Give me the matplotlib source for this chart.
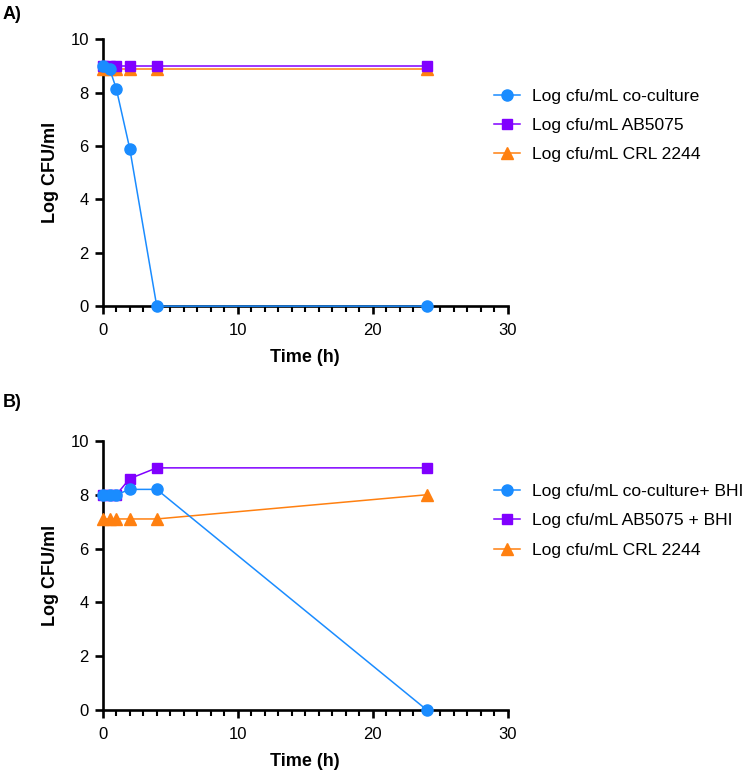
import matplotlib.pyplot as plt
from matplotlib.ticker import MultipleLocator

plt.rcParams['font.family'] = ['Liberation Sans', 'DejaVu Sans']

# panel A data
time_a = [0, 0.5, 1, 2, 4, 24]
coculture_a = [9.0, 8.9, 8.15, 5.9, 0.0, 0.0]
ab5075_a = [9.0, 9.0, 9.0, 9.0, 9.0, 9.0]
crl_a = [8.9, 8.9, 8.9, 8.9, 8.9, 8.9]

# panel B data
time_b = [0, 0.5, 1, 2, 4, 24]
coculture_b = [8.0, 8.0, 8.0, 8.2, 8.2, 0.0]
ab5075_b = [8.0, 8.0, 8.0, 8.6, 9.0, 9.0]
crl_b = [7.1, 7.1, 7.1, 7.1, 7.1, 8.0]

labels_a = ['Log cfu/mL co-culture', 'Log cfu/mL AB5075', 'Log cfu/mL CRL 2244']
labels_b = ['Log cfu/mL co-culture+ BHI', 'Log cfu/mL AB5075 + BHI', 'Log cfu/mL CRL 2244']

blue = '#1a8cff'
purple = '#8000ff'
orange = '#ff8010'

fig = plt.figure(figsize=(7.5, 7.75), dpi=100)
ax_a = fig.add_axes([0.137, 0.605, 0.54, 0.3445])
ax_b = fig.add_axes([0.137, 0.084, 0.54, 0.347])


def draw(ax, t, co, ab, crl, labels, legend_y):
    # orange first so purple sits on top like the original
    h3, = ax.plot(t, crl, color=orange, marker='^', ms=8.5, lw=1.1, clip_on=False, zorder=3)
    h2, = ax.plot(t, ab, color=purple, marker='s', ms=7.5, lw=1.1, clip_on=False, zorder=4)
    h1, = ax.plot(t, co, color=blue, marker='o', ms=8, lw=1.1, clip_on=False, zorder=5)
    ax.set_xlim(0, 30)
    ax.set_ylim(0, 10)
    ax.set_xticks([0, 10, 20, 30])
    ax.xaxis.set_minor_locator(MultipleLocator(1))
    ax.set_yticks([0, 2, 4, 6, 8, 10])
    for s in ['top', 'right']:
        ax.spines[s].set_visible(False)
    for s in ['left', 'bottom']:
        ax.spines[s].set_linewidth(1.9)
    ax.tick_params(which='major', width=1.9, length=6, labelsize=12)
    ax.tick_params(which='minor', width=1.5, length=4)
    ax.tick_params(axis='x', pad=6)
    ax.tick_params(axis='y', pad=4)
    ax.set_xlabel('Time (h)', fontsize=13, fontweight='bold', labelpad=8)
    ax.set_ylabel('Log CFU/ml', fontsize=13, fontweight='bold', labelpad=8)
    fig.legend([h1, h2, h3], labels, loc='center left', bbox_to_anchor=(0.658, legend_y),
               frameon=False, fontsize=12.6, handlelength=1.5, handletextpad=0.7,
               labelspacing=0.8, borderpad=0, borderaxespad=0)


draw(ax_a, time_a, coculture_a, ab5075_a, crl_a, labels_a, 0.838)
draw(ax_b, time_b, coculture_b, ab5075_b, crl_b, labels_b, 0.328)

fig.text(0.003, 0.981, 'A)', fontsize=13, fontweight='bold', va='center')
fig.text(0.003, 0.481, 'B)', fontsize=13, fontweight='bold', va='center')

fig.savefig('out.png', dpi=100)
